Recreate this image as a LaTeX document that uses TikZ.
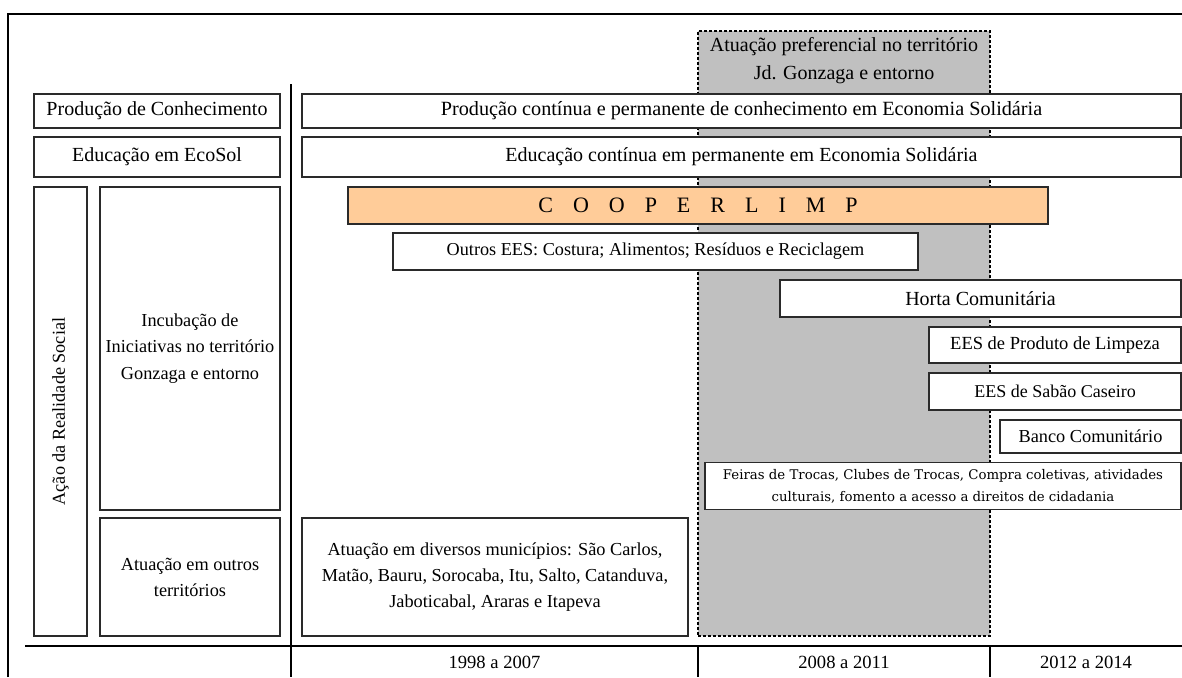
\documentclass[tikz,border=0pt]{standalone}
\usepackage{fontspec}
\setmainfont{Liberation Serif}
\newfontfamily\slabfont{DejaVu Serif}
\definecolor{grayzone}{HTML}{C0C0C0}
\definecolor{peach}{HTML}{FFCC99}
\definecolor{edge}{HTML}{2A2A2A}
\newcommand{\setfs}[2]{\fontsize{#1}{#2}\selectfont}
\begin{document}
\begin{tikzpicture}[x=1pt,y=-1pt,
  box/.style={draw=edge, line width=1.3pt, fill=white, inner sep=0pt, align=center},
  zone/.style={draw=black, line width=1.1pt, dash pattern=on 3pt off 2pt, fill=grayzone, inner sep=0pt},
  frameline/.style={line width=2.2pt, black},
  divline/.style={line width=1.6pt, black},
  lbl/.style={inner sep=0pt, align=center}]
\useasboundingbox (0,0) rectangle (1182,677);
% frame
\draw[frameline] (8,677) -- (8,14) -- (1182,14);
\draw[divline] (291,84) -- (291,677);
\draw[divline] (25,646) -- (1182,646);
\draw[divline] (698,646) -- (698,677);
\draw[divline] (990,646) -- (990,677);
% preferential zone
\node[zone, minimum width=292pt, minimum height=605pt] (zona) at (844,333.5) {};
\node[lbl, font=\setfs{20}{28}] (zonatxt) at (844,61) {Atuação preferencial no território\\Jd. Gonzaga e entorno};
% left column
\node[box, minimum width=246pt, minimum height=34pt, font=\setfs{20}{26}] (prodL) at (157,111) {Produção de Conhecimento};
\node[box, minimum width=246pt, minimum height=40pt, font=\setfs{20}{26}] (eduL) at (157,157) {Educação em EcoSol};
\node[box, minimum width=53pt, minimum height=449pt] (acao) at (60.5,411.5) {};
\node[lbl, rotate=90, font=\setfs{18.2}{26}] (acaotxt) at (acao.center) {Ação da Realidade Social};
\node[box, minimum width=180pt, minimum height=323pt, font=\setfs{18.3}{26.5}] (incub) at (190,348.5) {Incubação de\\Iniciativas no território\\Gonzaga e entorno};
\node[box, minimum width=180pt, minimum height=118pt, font=\setfs{18.3}{26}] (outros) at (190,577) {Atuação em outros\\territórios};
% right rows
\node[box, minimum width=879pt, minimum height=34pt, font=\setfs{20.2}{26}] (prodR) at (741.5,111) {Produção contínua e permanente de conhecimento em Economia Solidária};
\node[box, minimum width=879pt, minimum height=40pt, font=\setfs{20}{26}] (eduR) at (741.5,157) {Educação contínua em permanente em Economia Solidária};
\node[box, fill=peach, minimum width=700pt, minimum height=37pt, font=\setfs{22}{26}] (coop) at (698,205.5) {C\hspace{20pt}O\hspace{20pt}O\hspace{20pt}P\hspace{20pt}E\hspace{20pt}R\hspace{20pt}L\hspace{20pt}I\hspace{20pt}M\hspace{20pt}P};
\node[box, minimum width=525pt, minimum height=37pt, font=\setfs{18.2}{26}] (outrosees) at (655.5,251.5) {Outros EES: Costura; Alimentos; Resíduos e Reciclagem};
\node[box, minimum width=401pt, minimum height=37pt, font=\setfs{20}{26}] (horta) at (980.5,298.5) {Horta Comunitária};
\node[box, minimum width=252pt, minimum height=36pt, font=\setfs{18.5}{26}] (limpeza) at (1055,345) {EES de Produto de Limpeza};
\node[box, minimum width=252pt, minimum height=37pt, font=\setfs{18}{26}] (sabao) at (1055,391.5) {EES de Sabão Caseiro};
\node[box, minimum width=181pt, minimum height=33pt, font=\setfs{18.3}{26}] (banco) at (1090.5,436.5) {Banco Comunitário};
\node[box, minimum width=476pt, minimum height=47pt, font=\slabfont\setfs{13.3}{22}] (feiras) at (943,486) {Feiras de Trocas, Clubes de Trocas, Compra coletivas, atividades\\culturais, fomento a acesso a direitos de cidadania};
\node[box, minimum width=386pt, minimum height=118pt, font=\setfs{18.3}{26}] (munic) at (495,577) {Atuação em diversos municípios: São Carlos,\\Matão, Bauru, Sorocaba, Itu, Salto, Catanduva,\\Jaboticabal, Araras e Itapeva};
% years
\node[lbl, font=\setfs{18.6}{26}] (y1) at (494.5,662) {1998 a 2007};
\node[lbl, font=\setfs{18.6}{26}] (y2) at (844,662) {2008 a 2011};
\node[lbl, font=\setfs{18.6}{26}] (y3) at (1086,662) {2012 a 2014};
\end{tikzpicture}
\end{document}
